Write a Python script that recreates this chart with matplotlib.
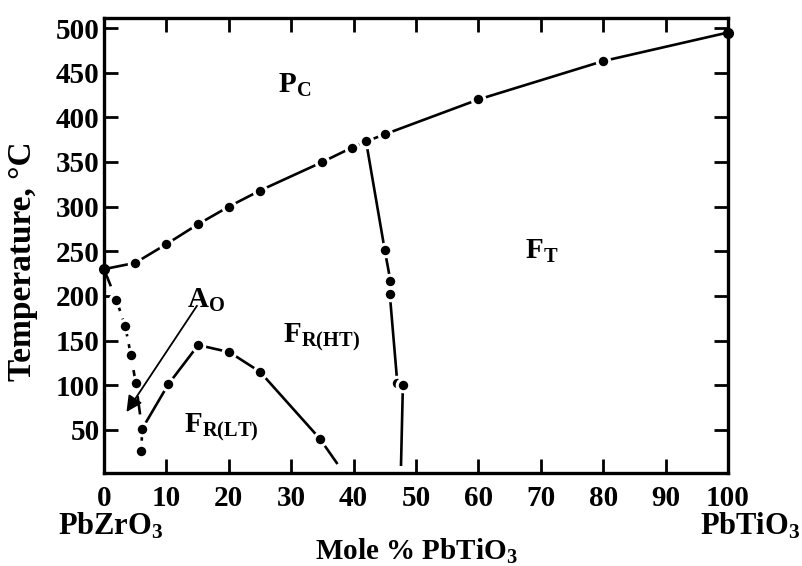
"""PbZrO3-PbTiO3 phase diagram."""

import matplotlib

matplotlib.use("Agg")

import matplotlib.pyplot as plt

plt.rcParams["font.family"] = "Liberation Serif"
plt.rcParams["font.weight"] = "bold"
plt.rcParams["axes.labelweight"] = "bold"
plt.rcParams["mathtext.fontset"] = "custom"
plt.rcParams["mathtext.rm"] = "Liberation Serif:bold"
plt.rcParams["mathtext.bf"] = "Liberation Serif:bold"
plt.rcParams["mathtext.it"] = "Liberation Serif:bold"

# Curie line (cubic paraelectric boundary)
pc_x = [0, 5, 10, 15, 20, 25, 35, 39.7, 42, 45, 60, 80, 100]
pc_t = [230, 237, 258, 280, 300, 318, 350, 366, 373, 381, 420, 463, 495]

# antiferroelectric orthorhombic boundary
ao_x = [0, 2, 3.4, 4.3, 5.1, 6.1, 6.0]
ao_t = [230, 195, 166, 134, 102, 51, 26]

# FR(LT) / FR(HT) boundary (last point is the line end, no marker)
fr_x = [6.1, 10.3, 15.1, 20.1, 25, 34.6, 37.3]
fr_t = [51, 101, 145, 137, 115, 40, 13]

# morphotropic boundary (first/last points are line ends)
mpb_x = [42, 45, 45.9, 45.8, 47, 47.9, 47.6]
mpb_t = [373, 251, 217, 202, 103, 100, 11]

xticks = list(range(0, 101, 10))
yticks = list(range(50, 501, 50))

fig = plt.figure(figsize=(8.02, 5.66), dpi=100)
ax = fig.add_axes([0.1297, 0.1648, 0.778, 0.803])

lw = 1.9
mk = dict(marker="o", markersize=9, markerfacecolor="black",
          markeredgecolor="white", markeredgewidth=2.2, linestyle="none",
          zorder=3, clip_on=False)
mk_end = dict(marker="o", markersize=7, color="black", linestyle="none",
              zorder=4, clip_on=False)

ax.plot(pc_x, pc_t, color="black", lw=lw, zorder=2)
ax.plot(pc_x[1:-1], pc_t[1:-1], **mk)
ax.plot([pc_x[0], pc_x[-1]], [pc_t[0], pc_t[-1]], **mk_end)

ax.plot(ao_x, ao_t, color="black", lw=lw, dashes=(7, 3), zorder=2)
ax.plot(ao_x[1:], ao_t[1:], **mk)

ax.plot(fr_x, fr_t, color="black", lw=lw, zorder=2)
ax.plot(fr_x[1:-1], fr_t[1:-1], **mk)

ax.plot(mpb_x, mpb_t, color="black", lw=lw, zorder=2)
ax.plot(mpb_x[1:-1], mpb_t[1:-1], **mk)

# arrow from the AO label
ax.annotate("", xy=(3.6, 70), xytext=(14.9, 189),
            arrowprops=dict(arrowstyle="-|>", color="black", lw=1.3,
                            mutation_scale=24, shrinkA=0, shrinkB=0))

lbl = dict(fontsize=21, ha="center", va="center")
ax.text(30.6, 436, r"$\mathbf{P_C}$", **lbl)
ax.text(70.2, 250, r"$\mathbf{F_T}$", **lbl)
ax.text(16.3, 195, r"$\mathbf{A_O}$", **lbl)
ax.text(34.8, 154, r"$\mathbf{F_{R(HT)}}$", **lbl)
ax.text(18.8, 53, r"$\mathbf{F_{R(LT)}}$", **lbl)

ax.set_xlim(0, 100)
ax.set_ylim(2, 511)
ax.set_xticks(xticks)
ax.set_yticks(yticks)
ax.tick_params(direction="in", length=10, width=2, labelsize=21,
               top=True, right=True)
ax.tick_params(axis="x", pad=9)
ax.tick_params(axis="y", pad=3)
for s in ax.spines.values():
    s.set_linewidth(2.4)

ax.set_xlabel(r"Mole % PbTiO$_3$", fontsize=21)
ax.xaxis.set_label_coords(0.5, -0.142)
ax.set_ylabel("Temperature, °C", fontsize=24)
ax.yaxis.set_label_coords(-0.106, 0.466)

fig.text(0.138, 0.0548, r"PbZrO$_3$", fontsize=22, ha="center", va="baseline")
fig.text(0.935, 0.0555, r"PbTiO$_3$", fontsize=22, ha="center", va="baseline")

fig.savefig("out.png", dpi=100)
plt.close(fig)
